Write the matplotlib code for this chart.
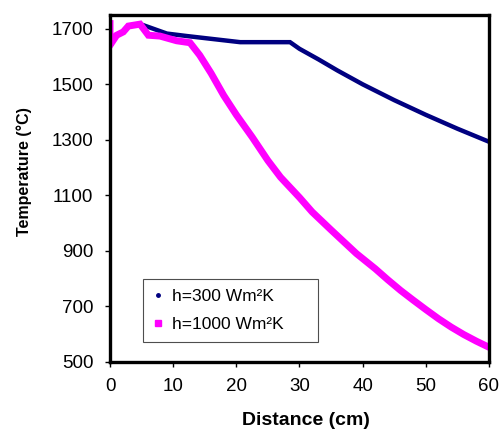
import matplotlib
matplotlib.use("Agg")
import matplotlib.pyplot as plt

plt.rcParams["font.family"] = ["Liberation Sans", "DejaVu Sans"]

# h = 300 W/m2K
dist_300 = [0, 0, 1.05, 2.1, 2.9, 4.75, 5.3, 9.0, 12.2, 20.6, 28.5, 30, 33, 36, 40, 45, 50, 55, 60]
temp_300 = [1719, 1641, 1677, 1689, 1710, 1717, 1713, 1683, 1674, 1652, 1652, 1628, 1590, 1550,
            1500, 1443, 1390, 1340, 1293]

# h = 1000 W/m2K
dist_1000 = [0, 0, 1.05, 2.1, 2.9, 4.75, 6.07, 7.9, 10.55, 12.66, 14.2, 16, 18, 20, 22.5, 25, 27,
             30, 32, 35, 39, 42, 44, 46, 48, 50, 52, 54, 56, 58, 60]
temp_1000 = [1719, 1641, 1677, 1689, 1710, 1717, 1677, 1674, 1657, 1650, 1605, 1540, 1460, 1390,
             1310, 1225, 1165, 1092, 1040, 975, 890, 835, 795, 757, 722, 688, 655, 625, 598, 574, 552]

labels = ["h=300 Wm\u00b2K", "h=1000 Wm\u00b2K"]
x_ticks = [0, 10, 20, 30, 40, 50, 60]
y_ticks = [500, 700, 900, 1100, 1300, 1500, 1700]

fig = plt.figure(figsize=(5.01, 4.33), dpi=100)
ax = fig.add_axes([0.2196, 0.1647, 0.7564, 0.8007])

ax.plot(dist_300, temp_300, color="#000080", linewidth=3.2, solid_joinstyle="miter",
        label=labels[0])
ax.plot(dist_1000, temp_1000, color="#FF00FF", linewidth=5.0, solid_joinstyle="miter",
        label=labels[1])

ax.set_xlim(0, 60)
ax.set_ylim(500, 1750)
ax.set_xticks(x_ticks)
ax.set_yticks(y_ticks)
ax.tick_params(direction="out", length=3.6, width=1, labelsize=13.5, pad=8.5)

for s in ax.spines.values():
    s.set_linewidth(2.4)
    s.set_color("black")

ax.set_xlabel("Distance (cm)", fontsize=14, fontweight="bold")
ax.set_ylabel("Temperature (\u00b0C)", fontsize=11.5, fontweight="bold")
ax.xaxis.set_label_coords(0.517, -0.144)
ax.yaxis.set_label_coords(-0.206, 0.548)

# legend shows markers only, like the original
h300 = plt.Line2D([], [], linestyle="none", marker="o", markersize=2.5, color="#000080")
h1000 = plt.Line2D([], [], linestyle="none", marker="s", markersize=4, color="#FF00FF")
leg = ax.legend([h300, h1000], labels, loc="lower left",
                bbox_to_anchor=(0.087, 0.058, 0.462, 0.178), mode="expand",
                fontsize=12.5, frameon=True, fancybox=False, handlelength=0.6,
                handletextpad=0.5, labelspacing=0.75, borderpad=0.55, borderaxespad=0)
leg.get_frame().set_edgecolor("#222222")
leg.get_frame().set_linewidth(0.8)

fig.savefig("out.png", dpi=100)
